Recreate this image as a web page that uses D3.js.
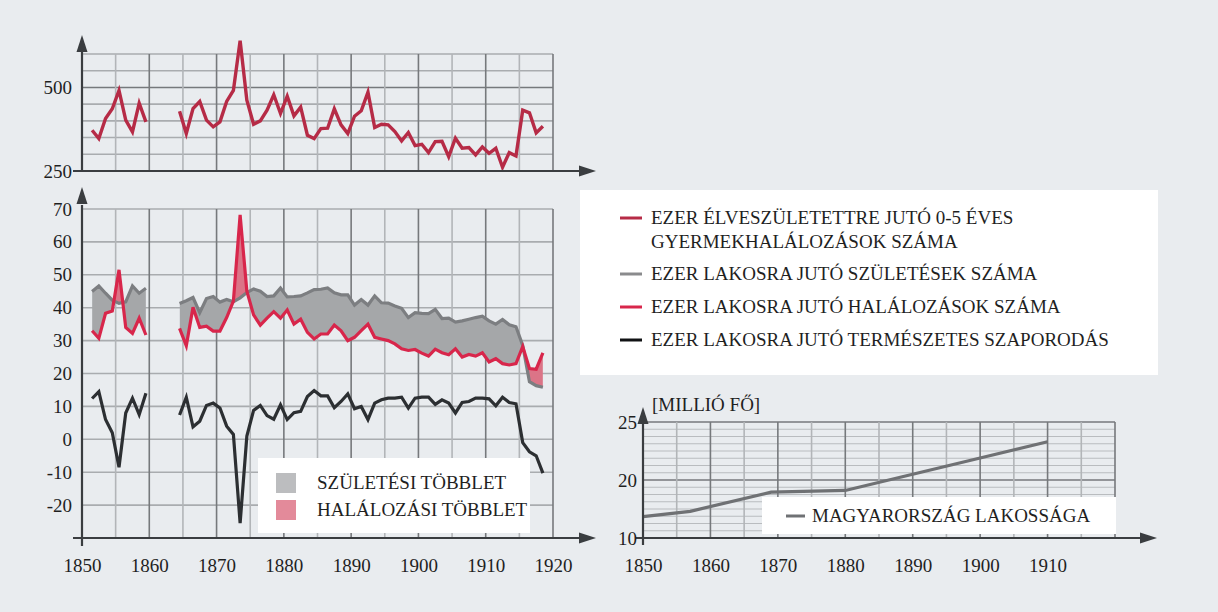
<!DOCTYPE html>
<html><head><meta charset="utf-8">
<script src="https://cdn.jsdelivr.net/npm/d3@7"></script>
<style>
html,body{margin:0;padding:0;background:#e9ecef;}
svg{display:block;font-family:"Liberation Serif","Times New Roman",serif;}
</style></head><body>
<svg id="c" width="1218" height="612"></svg>
<script>
// ---------- DATA ----------
const years = [1851,1852,1853,1854,1855,1856,1857,1858,1859,1860,1861,1862,1863,
1864,1865,1866,1867,1868,1869,1870,1871,1872,1873,1874,1875,1876,1877,1878,1879,1880,
1881,1882,1883,1884,1885,1886,1887,1888,1889,1890,1891,1892,1893,1894,1895,1896,1897,1898,1899,1900,
1901,1902,1903,1904,1905,1906,1907,1908,1909,1910,1911,1912,1913,1914,1915,1916,1917,1918];

const childMortality = [372,347,407,436,491,402,367,453,397,
null,null,null,null,
429,362,437,458,402,382,397,458,491,640,
462,390,400,432,478,422,474,
415,441,357,347,377,378,436,388,362,414,
430,486,380,390,388,368,340,365,326,330,
305,338,339,293,348,318,320,298,322,303,
318,261,305,295,432,424,364,384];

const births = [44.9,46.6,44.4,42.3,41.3,41.8,46.6,44.4,45.9,
null,null,null,null,
41.3,42.1,43.1,38.5,42.8,43.4,41.7,42.5,41.8,43.0,
44.6,45.7,45.0,43.4,43.6,46.0,43.3,
43.4,43.6,44.5,45.5,45.6,46.0,44.5,43.9,43.9,40.8,
42.5,40.8,43.6,41.5,41.4,40.5,39.8,37.0,38.5,38.3,
38.2,39.5,36.7,36.8,35.6,36.0,36.5,37.0,37.4,36.0,
35.0,36.4,34.8,34.2,28.5,17.5,16.3,15.8];

const deaths = [33.0,30.7,38.3,39.0,51.5,34.0,32.2,36.8,31.7,
null,null,null,null,
33.7,28.4,40.1,34.0,34.4,32.9,32.9,37.0,42.0,68.2,
45.0,37.8,34.7,36.8,38.8,36.8,39.3,
35.0,36.5,32.5,30.5,32.0,32.0,34.7,33.0,30.0,31.0,
33.0,35.0,31.0,30.5,30.0,29.0,27.5,27.0,27.3,26.2,
25.3,27.4,26.3,25.7,27.5,25.0,25.8,25.3,26.3,23.5,
24.5,23.0,22.6,23.0,28.2,21.5,21.3,26.3];

const naturalIncrease = [12.4,14.5,6.0,2.0,-8.5,8.0,12.5,7.5,14.0,
null,null,null,null,
7.4,12.8,3.8,5.5,10.3,11.0,9.5,4.0,1.5,-25.5,
1.0,8.8,10.3,7.2,6.1,10.5,6.0,
8.1,8.5,13.0,14.8,13.2,13.2,9.6,11.5,13.8,9.3,
10.0,6.0,11.0,12.0,12.5,12.5,12.8,9.5,12.5,12.8,
12.8,10.6,12.0,11.0,8.0,11.2,11.5,12.5,12.5,12.3,
10.2,12.8,11.2,10.8,-1.0,-3.8,-5.0,-10.3];

const popYears = [1850,1857,1869,1880,1890,1900,1910];
const popValues = [13.7,14.6,17.9,18.2,20.5,21.9,23.3];

const xTickYears = [1850,1860,1870,1880,1890,1900,1910,1920];
const popTickYears = [1850,1860,1870,1880,1890,1900,1910];
const topTicks = [250,500];
const mainTicks = [-20,-10,0,10,20,30,40,50,60,70];
const popTicks = [10,20,25];

const legendLabels = [
  ["EZER ÉLVESZÜLETETTRE JUTÓ 0-5 ÉVES","GYERMEKHALÁLOZÁSOK SZÁMA"],
  ["EZER LAKOSRA JUTÓ SZÜLETÉSEK SZÁMA"],
  ["EZER LAKOSRA JUTÓ HALÁLOZÁSOK SZÁMA"],
  ["EZER LAKOSRA JUTÓ TERMÉSZETES SZAPORODÁS"]
];
const fillLegendLabels = ["SZÜLETÉSI TÖBBLET","HALÁLOZÁSI TÖBBLET"];
const popLegendLabel = "MAGYARORSZÁG LAKOSSÁGA";
const popUnitLabel = "[MILLIÓ FŐ]";

// ---------- STYLE ----------
const INK="#1f1f1f", AXIS="#3a3d40", GMIN="#b2b5b8", GMAJ="#76797c", GH="#a9acaf";
const C_CHILD="#b62b46", C_DEATH="#d8264b", C_BIRTH="#7c7e81", C_NAT="#2c2f32";
const F_GRAY="#a5a7a9", F_PINK="#db7487";
const FS=19;
const fmt=d=>String(d);

const svg=d3.select("#c");
svg.append("rect").attr("width",1218).attr("height",612).attr("fill","#e9ecef");

const x=d3.scaleLinear().domain([1850,1920]).range([82,553]);
const yTop=d3.scaleLinear().domain([250,600]).range([171,54]);
const yMain=d3.scaleLinear().domain([-30,70]).range([538,209]);
const xPop=d3.scaleLinear().domain([1850,1920]).range([643,1115]);
const yPop=d3.scaleLinear().domain([10,20,25]).range([538,480,422]);
const mid=yr=>x(yr+0.5);

const rows=years.map((yr,i)=>({yr,c:childMortality[i],b:births[i],d:deaths[i],n:naturalIncrease[i]}));

function arrowUp(g,cx,tip){g.append("path").attr("d",`M${cx},${tip} L${cx-5.5},${tip+17} L${cx+5.5},${tip+17} Z`).attr("fill",AXIS);}
function arrowRight(g,tip,cy){g.append("path").attr("d",`M${tip},${cy} L${tip-17},${cy-5.5} L${tip-17},${cy+5.5} Z`).attr("fill",AXIS);}
function line(g,x1,y1,x2,y2,c,w){g.append("line").attr("x1",x1).attr("y1",y1).attr("x2",x2).attr("y2",y2).attr("stroke",c).attr("stroke-width",w);}

function vgrid(g,sx,y0,y1){
  g.selectAll(null).data(d3.range(1855,1921,5)).join("line")
   .attr("x1",d=>sx(d)).attr("x2",d=>sx(d)).attr("y1",y0).attr("y2",y1)
   .attr("stroke",d=>d%10===0?GMAJ:GMIN).attr("stroke-width",1.6);
}
function styleAxis(g){
  g.select(".domain").remove();
  g.selectAll("line").remove();
  g.selectAll("text").attr("font-size",FS).attr("fill",INK).attr("font-family","Liberation Serif, serif");
}

// ---------- TOP CHART ----------
const gt=svg.append("g");
gt.selectAll(null).data(d3.range(300,601,50)).join("line")
  .attr("x1",82).attr("x2",553).attr("y1",d=>yTop(d)).attr("y2",d=>yTop(d))
  .attr("stroke",d=>d===500?GMAJ:GH).attr("stroke-width",1.6);
vgrid(gt,x,yTop(600),yTop(250));
gt.append("path").datum(rows)
  .attr("d",d3.line().defined(d=>d.c!=null).x(d=>mid(d.yr)).y(d=>yTop(d.c)))
  .attr("fill","none").attr("stroke",C_CHILD).attr("stroke-width",3.4).attr("stroke-linejoin","miter");
line(gt,82,yTop(250)+1,82,52,AXIS,2.2); arrowUp(gt,82,35);
line(gt,73,yTop(250),585,yTop(250),AXIS,2.2); arrowRight(gt,596,yTop(250));
gt.append("g").attr("transform","translate(82,0)")
  .call(d3.axisLeft(yTop).tickValues(topTicks).tickFormat(fmt).tickSize(0).tickPadding(10)).call(styleAxis);

// ---------- MAIN CHART ----------
const gm=svg.append("g");
gm.selectAll(null).data(d3.range(-20,71,10)).join("line")
  .attr("x1",82).attr("x2",553).attr("y1",d=>yMain(d)).attr("y2",d=>yMain(d))
  .attr("stroke",GH).attr("stroke-width",1.6);
vgrid(gm,x,yMain(70),yMain(-30));

const def=d=>d.b!=null&&d.d!=null;
const defs=svg.append("defs");
defs.append("clipPath").attr("id","belowBirths").append("path").datum(rows)
  .attr("d",d3.area().defined(def).x(d=>mid(d.yr)).y0(612).y1(d=>yMain(d.b)));
defs.append("clipPath").attr("id","aboveBirths").append("path").datum(rows)
  .attr("d",d3.area().defined(def).x(d=>mid(d.yr)).y0(0).y1(d=>yMain(d.b)));
gm.append("path").datum(rows).attr("clip-path","url(#belowBirths)")
  .attr("d",d3.area().defined(def).x(d=>mid(d.yr)).y0(d=>yMain(d.d)).y1(0)).attr("fill",F_GRAY);
gm.append("path").datum(rows).attr("clip-path","url(#aboveBirths)")
  .attr("d",d3.area().defined(def).x(d=>mid(d.yr)).y0(d=>yMain(d.d)).y1(612)).attr("fill",F_PINK);

function series(key,color){
  gm.append("path").datum(rows)
   .attr("d",d3.line().defined(d=>d[key]!=null).x(d=>mid(d.yr)).y(d=>yMain(d[key])))
   .attr("fill","none").attr("stroke",color).attr("stroke-width",3.2).attr("stroke-linejoin","miter");
}
series("b",C_BIRTH); series("d",C_DEATH); series("n",C_NAT);

line(gm,82,546,82,205,AXIS,2.2); arrowUp(gm,82,187);
line(gm,73,538,585,538,AXIS,2.2); arrowRight(gm,596,538);
gm.append("g").attr("transform","translate(82,0)")
  .call(d3.axisLeft(yMain).tickValues(mainTicks).tickFormat(fmt).tickSize(0).tickPadding(10)).call(styleAxis);
gm.append("g").attr("transform","translate(0,538)")
  .call(d3.axisBottom(x).tickValues(xTickYears).tickFormat(fmt).tickSize(0).tickPadding(21)).call(styleAxis);

// fill legend
const fl=svg.append("g");
fl.append("rect").attr("x",258).attr("y",458).attr("width",272).attr("height",75).attr("fill","#ffffff");
[["#bcbdbf",483],["#e38a9a",510]].forEach(([c,cy],i)=>{
  fl.append("rect").attr("x",276).attr("y",cy-10).attr("width",20).attr("height",20).attr("fill",c);
  fl.append("text").attr("x",317).attr("y",cy+6).attr("font-size",FS).attr("fill",INK).text(fillLegendLabels[i]);
});

// main legend
const lg=svg.append("g");
lg.append("rect").attr("x",580).attr("y",190).attr("width",578).attr("height",185).attr("fill","#ffffff");
const legColors=[C_CHILD,"#8a8b8d",C_DEATH,"#111214"];
const legY=[218,274,307,340];
legendLabels.forEach((lines,i)=>{
  line(lg,620,legY[i],642,legY[i],legColors[i],3);
  lines.forEach((t,j)=>{
    lg.append("text").attr("x",651).attr("y",legY[i]+6+j*24).attr("font-size",FS).attr("fill",INK).text(t);
  });
});

// ---------- POPULATION CHART ----------
const gp=svg.append("g");
const popMinor=d3.range(1,8).map(k=>10+k*10/8).concat(d3.range(1,8).map(k=>20+k*5/8));
gp.selectAll(null).data(popMinor).join("line")
  .attr("x1",643).attr("x2",1115).attr("y1",d=>yPop(d)).attr("y2",d=>yPop(d))
  .attr("stroke","#b9bcbf").attr("stroke-width",1.1);
gp.selectAll(null).data([20,25]).join("line")
  .attr("x1",643).attr("x2",1115).attr("y1",d=>yPop(d)).attr("y2",d=>yPop(d))
  .attr("stroke",GMAJ).attr("stroke-width",1.6);
vgrid(gp,xPop,yPop(25),yPop(10));
gp.append("path").datum(popYears.map((yr,i)=>({yr,v:popValues[i]})))
  .attr("d",d3.line().x(d=>xPop(d.yr)).y(d=>yPop(d.v)))
  .attr("fill","none").attr("stroke","#6f7174").attr("stroke-width",3.2);
gp.append("rect").attr("x",762).attr("y",497).attr("width",354).attr("height",37).attr("fill","#ffffff");
line(gp,786,516,805,516,"#6f7174",3);
gp.append("text").attr("x",812).attr("y",522).attr("font-size",FS).attr("fill",INK).text(popLegendLabel);
line(gp,643,545,643,420,AXIS,2.2); arrowUp(gp,643,407);
line(gp,636,538,1146,538,AXIS,2.2); arrowRight(gp,1157,538);
gp.append("g").attr("transform","translate(643,0)")
  .call(d3.axisLeft(yPop).tickValues(popTicks).tickFormat(fmt).tickSize(0).tickPadding(6)).call(styleAxis);
gp.append("g").attr("transform","translate(0,538)")
  .call(d3.axisBottom(xPop).tickValues(popTickYears).tickFormat(fmt).tickSize(0).tickPadding(21)).call(styleAxis);
gp.append("text").attr("x",652).attr("y",411).attr("font-size",FS).attr("fill",INK).text(popUnitLabel);
</script>
</body></html>
